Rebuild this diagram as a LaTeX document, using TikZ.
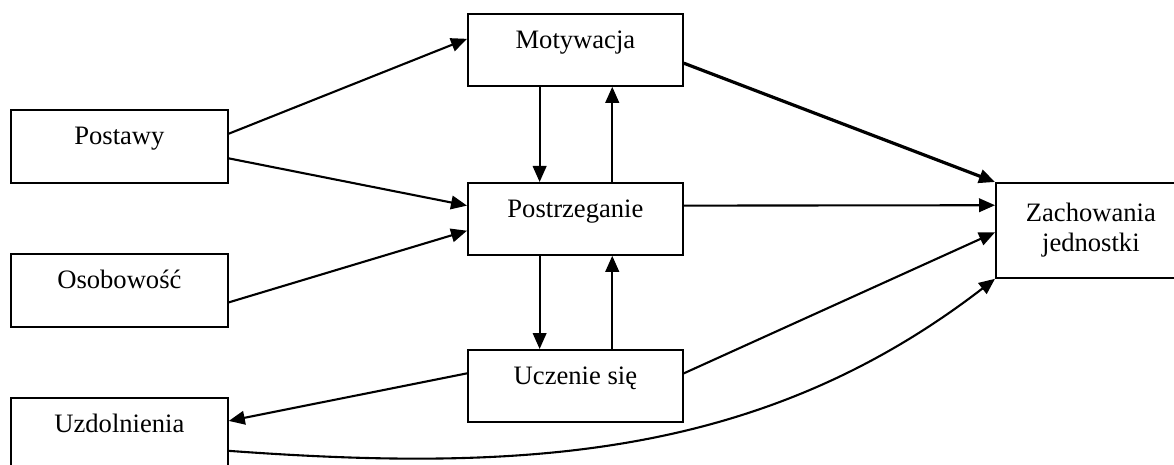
\documentclass[tikz,border=0pt]{standalone}
\usepackage{fontspec}
\setmainfont{Liberation Serif}
\usetikzlibrary{arrows.meta,calc}
\tikzset{
  frame/.style={draw=black, line width=0.9pt, anchor=north west, inner sep=0pt,
    minimum width=107.5pt, minimum height=36pt},
  box/.style={frame, text height=17.5pt, text depth=18.5pt},
  wide/.style={box, minimum width=108.5pt, text depth=19pt},
  flow/.style={-{Triangle[length=8pt, width=6.8pt]}, line width=1.05pt, draw=black},
  strong/.style={flow, line width=1.6pt}
}

\begin{document}
\begin{tikzpicture}[font=\fontsize{13.3pt}{15pt}\selectfont, x=0.5pt, y=-0.5pt]
  \useasboundingbox (0,0) rectangle (1174,465);

  % middle column
  \node[box] (mot) at (467,13) {Motywacja};
  \node[box] (perc) at (467,182) {Postrzeganie};
  \node[box] (learn) at (467,349) {Uczenie się};

  % left column
  \node[wide] (att) at (10,109) {Postawy};
  \node[wide] (pers) at (10,253) {Osobowość};
  \node[wide] (abil) at (10,397) {Uzdolnienia};

  % outcome
  \node[frame, align=center, minimum width=95pt, minimum height=47.5pt] (behav) at (995,182)
    {Zachowania\\jednostki};

  % inputs
  \draw[flow] ($(att.north east)!0.33!(att.south east)$) -- ($(mot.north west)!0.35!(mot.south west)$);
  \draw[flow] ($(att.north east)!0.66!(att.south east)$) -- ($(perc.north west)!0.32!(perc.south west)$);
  \draw[flow] ($(pers.north east)!0.66!(pers.south east)$) -- ($(perc.north west)!0.66!(perc.south west)$);
  \draw[flow] ($(learn.north west)!0.33!(learn.south west)$) -- ($(abil.north east)!0.32!(abil.south east)$);

  % feedback between the middle boxes
  \coordinate (m1) at ($(mot.south west)!0.335!(mot.south east)$);
  \coordinate (m2) at ($(mot.south west)!0.67!(mot.south east)$);
  \draw[flow] (m1) -- (m1 |- perc.north);
  \draw[flow] (m2 |- perc.north) -- (m2);
  \coordinate (p1) at ($(perc.south west)!0.335!(perc.south east)$);
  \coordinate (p2) at ($(perc.south west)!0.67!(perc.south east)$);
  \draw[flow] (p1) -- (p1 |- learn.north);
  \draw[flow] (p2 |- learn.north) -- (p2);

  % into behaviour
  \draw[strong] ($(mot.north east)!0.68!(mot.south east)$) -- (behav.north west);
  \draw[flow] ($(perc.north east)!0.32!(perc.south east)$) -- ($(behav.north west)!0.24!(behav.south west)$);
  \draw[flow] ($(learn.north east)!0.33!(learn.south east)$) -- ($(behav.north west)!0.52!(behav.south west)$);
  \draw[flow] ($(abil.north east)!0.72!(abil.south east)$) .. controls (520,472) and (760,460) .. (behav.south west);
\end{tikzpicture}
\end{document}
